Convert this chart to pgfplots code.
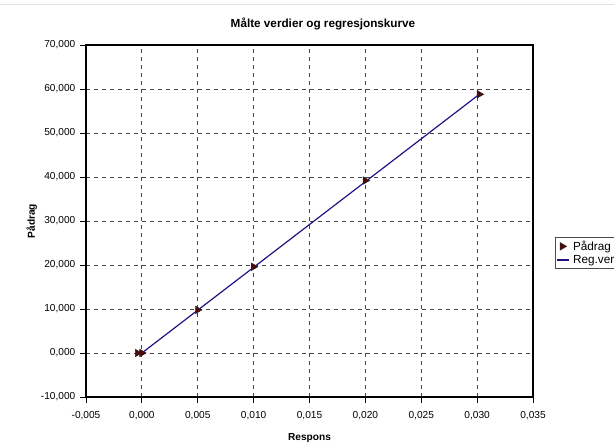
\documentclass[border=0pt]{standalone}
\usepackage{pgfplots}
\pgfplotsset{compat=1.18}
\usepackage{fontspec}
\setmainfont{Liberation Sans}
\definecolor{markred}{RGB}{80,8,8}
\definecolor{regblue}{RGB}{30,20,130}
\definecolor{gridgray}{RGB}{70,70,70}
\pgfplotsset{
  shortmark/.style={legend image code/.code={\draw[mark repeat=1, mark phase=1, ##1] plot coordinates {(0.15cm,0cm)};}},
  shortline/.style={legend image code/.code={\draw[##1] (0cm,0cm) -- (0.33cm,0cm);}},
}

\begin{document}
\begin{tikzpicture}[x=0.75pt,y=0.75pt]
\useasboundingbox (0,0) rectangle (614,443);
\draw[black!12, line width=0.6pt] (0,439) -- (614,439);
\node[font=\bfseries\fontsize{8.8}{10}\selectfont] at (323,419) {Målte verdier og regresjonskurve};
\begin{axis}[
  at={(64.5pt,34.5pt)}, anchor=south west,
  scale only axis,
  width=335.25pt, height=264pt,
  xmin=-0.005, xmax=0.035, ymin=-10000, ymax=70000,
  xtick={-0.005,0,0.005,0.010,0.015,0.020,0.025,0.030,0.035},
  xticklabels={{-0,005},{0,000},{0,005},{0,010},{0,015},{0,020},{0,025},{0,030},{0,035}},
  ytick={-10000,0,10000,20000,30000,40000,50000,60000,70000},
  yticklabels={{-10,000},{0,000},{10,000},{20,000},{30,000},{40,000},{50,000},{60,000},{70,000}},
  grid=major,
  major grid style={dashed, gridgray, line width=0.6pt},
  axis line style={black, line width=0.8pt},
  tick style={black, line width=0.6pt},
  tick align=outside,
  major tick length=4.5pt,
  xtick pos=bottom, ytick pos=left,
  scaled x ticks=false, scaled y ticks=false,
  x tick label style={font=\fontsize{7.6}{9}\selectfont, yshift=-3pt},
  y tick label style={font=\fontsize{7.6}{9}\selectfont},
  xlabel={\bfseries Respons},
  ylabel={\bfseries Pådrag},
  xlabel style={font=\fontsize{7.6}{9}\selectfont, yshift=-3pt},
  ylabel style={font=\fontsize{7.6}{9}\selectfont, yshift=-4pt},
  legend style={at={(1.0495,0.4545)}, anchor=north west,
    font=\fontsize{8.8}{10}\selectfont, draw=black!70,
    inner sep=0.5pt, row sep=-2pt, cells={anchor=west},
    /tikz/every odd column/.append style={column sep=0.5pt}},
  legend cell align=left,
]
\addplot[only marks, mark=triangle*, mark size=3.2pt,
  mark options={rotate=-90, fill=markred, draw=black!85}, shortmark]
  coordinates {(-0.0004,0) (0,0) (0.005,9800) (0.010,19600) (0.020,39200) (0.0302,58800)};
\addlegendentry{Pådrag}
\addplot[regblue, line width=0.9pt, mark=none, shortline]
  coordinates {(0,0) (0.0302,58800)};
\addlegendentry{Reg.verdier}
\end{axis}
\end{tikzpicture}
\end{document}
